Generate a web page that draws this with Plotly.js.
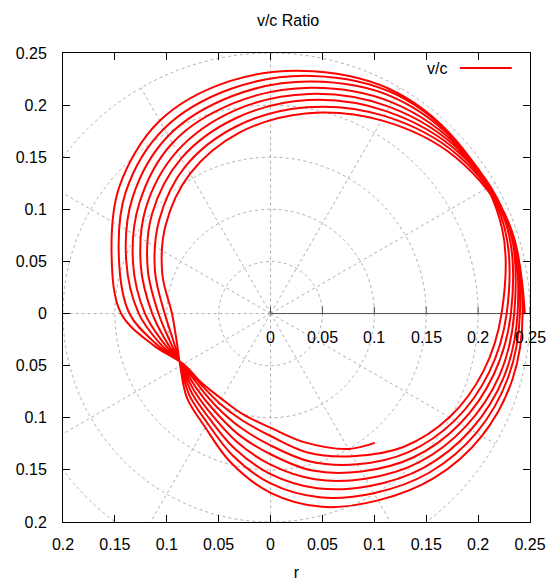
<!DOCTYPE html>
<html>
<head>
<meta charset="utf-8">
<script src="https://cdn.plot.ly/plotly-3.0.1.min.js"></script>
<style>html,body{margin:0;padding:0;background:#fff;}#chart{width:554px;height:587px;}</style>
</head>
<body>
<div id="chart"></div>
<script>
// polar angle (degrees) at which each revolution is sampled
const angles = [0,20,40,60,80,100,120,140,160,180,195,210,225,240,255,270,285,300,315,330,345];
// last revolution stops before closing
const anglesLast = [0,20,40,60,80,100,120,140,160,180,195,210,225,240,255,270,285,300,309];

// radius (r) of the v/c curve for each successive revolution
const rev1 = [0.245,0.245,0.233,0.214,0.195,0.176,0.155,0.132,0.111,0.095,0.094,0.1005,0.114,0.126,0.148,0.172,0.192,0.207,0.223,0.235,0.2415];
const rev2 = [0.2429,0.2455,0.236,0.219,0.201,0.183,0.1635,0.140,0.1185,0.102,0.0973,0.100,0.1107,0.1215,0.141,0.163,0.1825,0.199,0.216,0.229,0.237];
const rev3 = [0.2403,0.2455,0.2385,0.224,0.208,0.1905,0.172,0.149,0.126,0.108,0.1006,0.0995,0.1075,0.117,0.134,0.154,0.1735,0.191,0.209,0.223,0.233];
const rev4 = [0.238,0.245,0.2405,0.229,0.214,0.198,0.180,0.157,0.133,0.114,0.1039,0.099,0.1043,0.1125,0.127,0.145,0.1645,0.183,0.202,0.217,0.2285];
const rev5 = [0.2348,0.2445,0.242,0.234,0.220,0.205,0.189,0.165,0.141,0.121,0.1071,0.0985,0.1011,0.108,0.120,0.135,0.156,0.175,0.195,0.211,0.223];
const rev6 = [0.2316,0.2425,0.243,0.239,0.226,0.212,0.197,0.1735,0.148,0.127,0.1104,0.098,0.0979,0.1035,0.113,0.1265,0.147,0.167,0.188,0.205,0.218];
const rev7 = [0.2275,0.240,0.2435,0.2425,0.2315,0.219,0.205,0.182,0.1555,0.136,0.1137,0.0975,0.0955,0.099,0.106,0.1175,0.138,0.158,0.181,0.199,0.2125];
const rev8 = [0.2226,0.2375,0.2435,0.2445,0.236,0.2265,0.2136,0.190,0.163,0.144,0.117,0.097,0.094,0.0945,0.1005,0.1095,0.128,0.150,0.1597];

// axis tick values and labels (gnuplot prints magnitudes)
const axisTicks = [-0.2,-0.15,-0.1,-0.05,0,0.05,0.1,0.15,0.2,0.25];
const axisLabels = ["0.2","0.15","0.1","0.05","0","0.05","0.1","0.15","0.2","0.25"];
const rTicks = [0,0.05,0.1,0.15,0.2,0.25];
const rLabels = ["0","0.05","0.1","0.15","0.2","0.25"];
const gridRadii = [0.05,0.1,0.15,0.2,0.25];
const gridAngles = [0,30,60,90,120,150,180,210,240,270,300,330];

const revs = [rev1,rev2,rev3,rev4,rev5,rev6,rev7,rev8];
const xs = [], ys = [];
revs.forEach((rv, k) => {
  const th = (k === revs.length - 1) ? anglesLast : angles;
  rv.forEach((r, i) => {
    const a = th[i] * Math.PI / 180;
    xs.push(r * Math.cos(a));
    ys.push(r * Math.sin(a));
  });
});

const gridColor = '#b0b0b0';
const shapes = [];
gridRadii.forEach(r => shapes.push({type:'circle', xref:'x', yref:'y', x0:-r, x1:r, y0:-r, y1:r,
  line:{color:gridColor, width:1, dash:'dot'}, layer:'below'}));
gridAngles.forEach(d => {
  const a = d * Math.PI / 180, R = gridRadii[gridRadii.length-1];
  shapes.push({type:'line', xref:'x', yref:'y', x0:0, y0:0, x1:R*Math.cos(a), y1:R*Math.sin(a),
    line:{color:gridColor, width:1, dash:'dot'}, layer:'below'});
});
// polar r axis
shapes.push({type:'line', xref:'x', yref:'y', x0:0, y0:0, x1:rTicks[rTicks.length-1], y1:0,
  line:{color:'#505050', width:1}, layer:'below'});
rTicks.forEach(v => shapes.push({type:'line', xref:'x', yref:'y', x0:v, x1:v, y0:0, y1:0.0065,
  line:{color:'#505050', width:1}, layer:'below'}));
// legend sample line
shapes.push({type:'line', xref:'paper', yref:'paper', x0:0.850, x1:0.961, y0:0.968, y1:0.968,
  line:{color:'#ff0000', width:2}});

const font = {family:'Liberation Sans, Arial, sans-serif', size:16, color:'#000'};
const annotations = rTicks.map((v,i) => ({x:v, y:0, xref:'x', yref:'y', text:rLabels[i],
  showarrow:false, yanchor:'top', xanchor:'center', yshift:-13, font:font}));
annotations.push({x:0.826, y:0.968, xref:'paper', yref:'paper', text:'v/c', showarrow:false,
  xanchor:'right', yanchor:'middle', font:font});

const axisCommon = {
  range:[-0.2,0.25], tickvals:axisTicks, ticktext:axisLabels,
  ticks:'inside', ticklen:7, tickcolor:'#000', tickwidth:1,
  showline:true, linecolor:'#000', linewidth:1, mirror:'ticks',
  showgrid:false, zeroline:false, tickfont:font, fixedrange:true
};

const layout = {
  width:554, height:587,
  margin:{l:63, r:24, t:53, b:65},
  paper_bgcolor:'#fff', plot_bgcolor:'#fff',
  showlegend:false,
  title:{text:'v/c Ratio', font:{family:'Liberation Sans, Arial, sans-serif', size:16, color:'#000'},
    xref:'container', x:288/554, xanchor:'center', yref:'container', y:1-20/587, yanchor:'middle'},
  xaxis:Object.assign({}, axisCommon, {title:{text:'r', font:font, standoff:14}, ticklabelstandoff:8}),
  yaxis:Object.assign({}, axisCommon, {ticklabelstandoff:12}),
  shapes:shapes,
  annotations:annotations
};

Plotly.newPlot('chart', [{
  type:'scatter', mode:'lines', x:xs, y:ys, name:'v/c',
  line:{color:'#ff0000', width:2, shape:'spline', smoothing:1}
}], layout, {staticPlot:true});
</script>
</body>
</html>
